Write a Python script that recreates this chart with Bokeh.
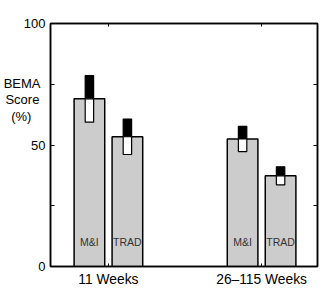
from bokeh.plotting import figure
from bokeh.models import Range1d, FixedTicker, LinearAxis, ColumnDataSource
from bokeh.core.properties import value
from bokeh.embed import file_html
from bokeh.resources import INLINE

groups = ["11 Weeks", "26\u2013115 Weeks"]
group_pos = [1, 2]
series = ["M&I", "TRAD"]
means = [69.0, 53.4, 52.5, 37.3]          # M&I 11, TRAD 11, M&I 26-115, TRAD 26-115
errs = [9.6, 7.3, 5.2, 3.7]
y_ticks = [0, 25, 50, 75, 100]
y_tick_labels = ["0", "", "50", "", "100"]
ylabel_lines = ["BEMA", "Score", "(%)"]
ylabel_pos = [75.3, 68.6, 61.9]

offsets = [-0.124, 0.124]
xs = [g + o for g in group_pos for o in offsets]
names = [s for g in group_pos for s in series]

FONT = "Liberation Sans"
# trailing spacing so the right-aligned lines look centred like the reference
ylabel_pad = {"BEMA": "", "Score": "\u200a", "(%)": "\u2002\u2009"}

p = figure(width=323, height=292, output_backend="svg", toolbar_location=None,
           x_range=Range1d(0.622, 2.365), y_range=Range1d(0, 100),
           min_border_left=45, min_border_right=6, min_border_top=23, min_border_bottom=26,
           x_axis_location=None, y_axis_location=None)
p.grid.visible = False
p.outline_line_color = "black"
p.outline_line_width = 1.5
p.background_fill_color = "white"
p.border_fill_color = "white"

src = ColumnDataSource(dict(
    x=xs, top=means, name=names,
    up=[m + e for m, e in zip(means, errs)],
    lo=[m - e for m, e in zip(means, errs)],
    ly=[10] * len(xs),
))

p.vbar(x="x", top="top", bottom=0, width=0.2, source=src,
       fill_color="#cccccc", line_color="black", line_width=1.5)
p.vbar(x="x", top="up", bottom="top", width=0.055, source=src,
       fill_color="black", line_color="black", line_width=1.2)
p.vbar(x="x", top="top", bottom="lo", width=0.055, source=src,
       fill_color="white", line_color="black", line_width=1.2)
p.text(x="x", y="ly", text="name", source=src, text_align="center",
       text_baseline="middle", text_font=value(FONT), text_font_size="10.5px",
       text_color="#333333")

def style_axis(ax, labels=True):
    ax.axis_line_color = "black"
    ax.axis_line_width = 1.5
    ax.major_tick_in = 4
    ax.major_tick_out = 0
    ax.minor_tick_line_color = None
    ax.major_tick_line_color = "black"
    ax.major_tick_line_width = 1
    ax.major_label_text_font = FONT
    ax.major_label_text_font_size = "13px"
    ax.major_label_text_color = "black" if labels else None

yl = LinearAxis(ticker=FixedTicker(ticks=y_ticks))
yl.major_label_overrides = {t: l for t, l in zip(y_ticks, y_tick_labels)}
style_axis(yl)
yl.major_label_standoff = 5
p.add_layout(yl, "left")

# y-axis title drawn as tick labels of a line-less outer axis
ylab = LinearAxis(ticker=FixedTicker(ticks=ylabel_pos))
ylab.major_label_overrides = {t: l + ylabel_pad[l] for t, l in zip(ylabel_pos, ylabel_lines)}
style_axis(ylab)
ylab.axis_line_color = None
ylab.major_tick_line_color = None
ylab.major_tick_in = 0
ylab.major_label_standoff = -20
p.add_layout(ylab, "left")

yr = LinearAxis(ticker=FixedTicker(ticks=y_ticks))
yr.major_label_overrides = {t: "" for t in y_ticks}
style_axis(yr, labels=False)
yr.major_label_standoff = 0
p.add_layout(yr, "right")

xb = LinearAxis(ticker=FixedTicker(ticks=group_pos))
xb.major_label_overrides = {g: n for g, n in zip(group_pos, groups)}
style_axis(xb)
xb.major_label_text_font_size = "13.8px"
xb.major_label_standoff = 5
xb.major_tick_in = 3
p.add_layout(xb, "below")

xt = LinearAxis(ticker=FixedTicker(ticks=group_pos))
xt.major_label_overrides = {g: "" for g in group_pos}
style_axis(xt, labels=False)
xt.major_tick_in = 3
xt.major_label_standoff = 0
p.add_layout(xt, "above")

open("out.html", "w").write(file_html(p, INLINE))
